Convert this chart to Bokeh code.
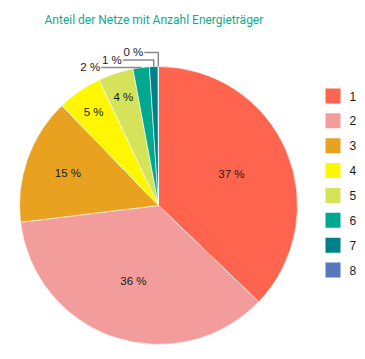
import numpy as np
from bokeh.plotting import figure
from bokeh.models import Range1d
from bokeh.core.properties import value
from bokeh.embed import file_html
from bokeh.resources import INLINE

# ---- data ----
title_text = "Anteil der Netze mit Anzahl Energieträger"
categories = ["1", "2", "3", "4", "5", "6", "7", "8"]
shares = [37.2, 35.9, 14.7, 5.2, 4.1, 1.9, 1.0, 0.04]
colors = ["#FF644E", "#F29C9C", "#E9A220", "#FFF700", "#D5E35A",
          "#00A88F", "#00818A", "#5577BB"]

# ---- layout ----
W, H = 362, 355
CX, CY, R = 158, 150, 139
FONT = "Liberation Sans"
TITLE_FONT = "Roboto"
TEXT_COLOR = "#1a1a1a"

p = figure(width=W, height=H, output_backend="svg", toolbar_location=None,
           x_range=Range1d(0, W), y_range=Range1d(0, H), min_border=0)
p.axis.visible = False
p.grid.visible = False
p.outline_line_color = None
p.background_fill_color = "white"

vals = np.array(shares, dtype=float)
frac = vals / vals.sum()
cum = np.concatenate([[0], np.cumsum(frac)]) * 2 * np.pi
start = np.pi / 2 - cum[:-1]
end = np.pi / 2 - cum[1:]

p.wedge(x=CX, y=CY, radius=R, start_angle=start, end_angle=end,
        direction="clock", fill_color=colors, line_color="white",
        line_width=0.6)

# inside labels
mid = (cum[:-1] + cum[1:]) / 2
half = (cum[1:] - cum[:-1]) / 2
lab_r = np.clip(R / (1 + np.sin(np.minimum(half, np.pi / 2))), 0.57 * R, 0.82 * R)
labels = [f"{round(v):d} %" for v in vals]
inside = frac >= 0.03
ix = CX + lab_r * np.sin(mid)
iy = CY + lab_r * np.cos(mid)
p.text(x=ix[inside], y=iy[inside], text=[l for l, k in zip(labels, inside) if k],
       text_align="center", text_baseline="middle", text_font=value(FONT),
       text_font_size="11.5px", text_color=TEXT_COLOR)

# callouts for small slices
small = np.where((~inside))[0]
CALLOUT_DX = [40, 31, 14]
LEVEL_STEP = 7.5
base_y = None
for k, i in enumerate(small):
    px = CX + R * np.sin(mid[i])
    py = CY + R * np.cos(mid[i])
    if base_y is None:
        base_y = py
    level = base_y + k * LEVEL_STEP
    lx = px - CALLOUT_DX[min(k, len(CALLOUT_DX) - 1)]
    p.line(x=[px, px, lx], y=[py, level, level], line_color="#8a8a8a",
           line_width=1.5)
    p.text(x=[lx - 1], y=[level + 0.5], text=[labels[i]], text_align="right",
           text_baseline="alphabetic", text_font=value(FONT),
           text_font_size="11.5px", text_color=TEXT_COLOR)

# legend
LEG_X, LEG_TOP, LEG_STEP, SQ = 332.5, 259.5, 24.86, 15
ly = LEG_TOP - np.arange(len(categories)) * LEG_STEP
p.rect(x=LEG_X, y=ly, width=SQ, height=SQ, fill_color=colors, line_color=None)
p.text(x=LEG_X + 16.5, y=ly, text=categories, text_align="left",
       text_baseline="middle", text_font=value(FONT), text_font_size="12px",
       text_color=TEXT_COLOR)

# title
p.text(x=[44], y=[336], text=[title_text], text_align="left",
       text_baseline="middle", text_font=value(TITLE_FONT), text_font_size="12px",
       text_color="#12A88F")

open("out.html", "w").write(file_html(p, INLINE))
